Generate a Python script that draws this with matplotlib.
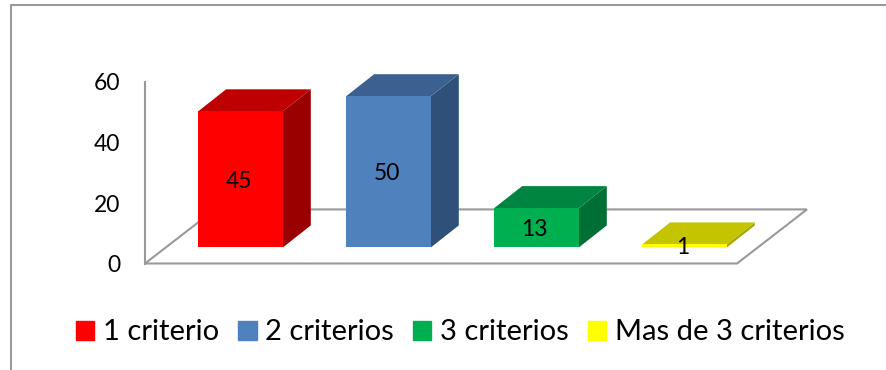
import matplotlib
matplotlib.use('Agg')
import matplotlib.pyplot as plt
from matplotlib.lines import Line2D
from matplotlib.patches import Patch, Polygon

categories = ['1 criterio', '2 criterios', '3 criterios', 'Mas de 3 criterios']
values = [45, 50, 13, 1]
y_ticks = [0, 20, 40, 60]

front_colors = ['#FF0000', '#4F81BD', '#00B050', '#FFFF00']
top_colors = ['#BE0000', '#3C6190', '#008540', '#C4C400']
side_colors = ['#9A0000', '#2F5078', '#006F35', '#A5A500']

W, H = 886, 370
GRAY = '#999999'

fig = plt.figure(figsize=(W / 100, H / 100), dpi=100)
plt.rcParams['font.family'] = ['Lato', 'DejaVu Sans']

# plano frontal del grafico: 0-60 entre y=263 y y=82, x=145 a x=737
ax = fig.add_axes([145 / W, 1 - 263.5 / H, 592 / W, 181.5 / H])
ax.set_xlim(-0.645, 3.355)
ax.set_ylim(0, 60)
ax.patch.set_alpha(0)
for s in ['top', 'right', 'bottom']:
    ax.spines[s].set_visible(False)
ax.spines['left'].set_color(GRAY)
ax.spines['left'].set_linewidth(1.5)
ax.set_xticks([])
ax.set_yticks(y_ticks)
ax.tick_params(axis='y', length=0, pad=18, labelsize=16.5, labelcolor='black')

# piso en perspectiva
floor_dx, floor_dy = 70 / 148, 54 / 3.02
x0, x1 = ax.get_xlim()
ax.add_patch(Polygon([(x0, 0), (x1, 0), (x1 + floor_dx, floor_dy), (x0 + floor_dx, floor_dy)],
                     closed=True, fc='white', ec=GRAY, lw=1.5, clip_on=False, zorder=1))

# barras 3D: cara frontal, superior y lateral
base = 16 / 3.02
width = 0.572
dx, dy = 28 / 148, 22 / 3.02
for i, v in enumerate(values):
    l, r = i - width / 2, i + width / 2
    b, t = base, base + v
    ax.add_patch(Polygon([(r, b), (r + dx, b + dy), (r + dx, t + dy), (r, t)],
                         fc=side_colors[i], ec='none', clip_on=False, zorder=3))
    ax.add_patch(Polygon([(l, t), (r, t), (r + dx, t + dy), (l + dx, t + dy)],
                         fc=top_colors[i], ec='none', clip_on=False, zorder=3))
    ax.bar(i, v, width=width, bottom=base, color=front_colors[i], zorder=4)
    ax.text(i - 0.012, base + v / 2 - 0.6, str(v), ha='center', va='center', fontsize=16.5, color='black', zorder=5)

# borde del recuadro: solo arriba e izquierda
fig.add_artist(Line2D([10.5 / W, 10.5 / W, 1], [0, 1 - 5 / H, 1 - 5 / H], color=GRAY, lw=1.5))

handles = [Patch(color=c, label=n) for c, n in zip(front_colors, categories)]
fig.legend(handles=handles, ncol=4, loc='center', bbox_to_anchor=(460.5 / W, 1 - 332.5 / H), frameon=False,
           fontsize=21, handlelength=0.62, handleheight=0.62, handletextpad=0.3,
           columnspacing=0.66, borderpad=0, borderaxespad=0)

plt.savefig('out.png', dpi=100)
